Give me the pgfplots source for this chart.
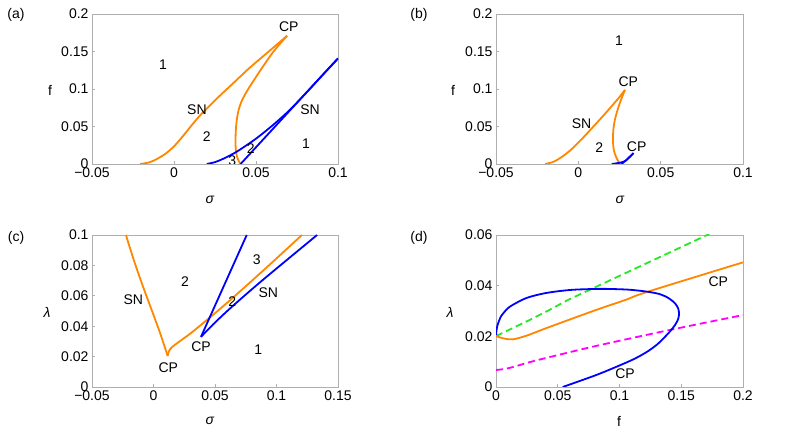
\documentclass[border=0pt]{standalone}
\usepackage{pgfplots}
\pgfplotsset{compat=1.18}
\usepackage{fontspec}
\setmainfont{Liberation Sans}
\definecolor{mo}{RGB}{255,135,0}
\definecolor{mb}{RGB}{0,0,255}
\definecolor{mg}{RGB}{40,230,40}
\definecolor{mm}{RGB}{255,0,255}
\definecolor{fr}{RGB}{175,175,175}
\pgfplotsset{
  panel/.style={
    scale only axis, anchor=south west,
    axis line style={draw=fr, line width=0.6pt},
    tick style={draw=fr, line width=0.6pt},
    major tick length=3pt, tick align=inside,
    xtick pos=lower, ytick pos=left,
    scaled x ticks=false, scaled y ticks=false,
    tick label style={font=\fontsize{14}{16}\selectfont},
    every axis plot/.append style={line width=1.8pt, no markers},
    clip=true,
  },
  orng/.style={mo, smooth},
  blu/.style={mb, smooth},
}
\newcommand{\tx}{\fontsize{14}{16}\selectfont}
\begin{document}
\begin{tikzpicture}[x=1pt,y=1pt]
\useasboundingbox (0,0) rectangle (789,443);
% ---------------- (a)
\begin{axis}[panel, at={(92pt,279pt)}, width=246pt, height=150pt,
  xmin=-0.05, xmax=0.1, ymin=0, ymax=0.2,
  xtick={-0.05,0,0.05,0.1}, xticklabels={−0.05,0,0.05,0.1},
  ytick={0,0.05,0.1,0.15,0.2}, yticklabels={0,0.05,0.1,0.15,0.2}]
\addplot[orng] coordinates {(-0.0207,0) (-0.015,0.0022) (-0.010,0.0072) (-0.005,0.0140) (0,0.0235) (0.005,0.036) (0.010,0.0495) (0.016,0.065) (0.026,0.087) (0.036,0.1075) (0.046,0.128) (0.0567,0.148) (0.069,0.171)};
\addplot[orng] coordinates {(0.069,0.171) (0.0645,0.160) (0.0600,0.148) (0.0555,0.134) (0.0497,0.115) (0.0450,0.099) (0.0415,0.085) (0.0394,0.072) (0.0383,0.059) (0.0377,0.045) (0.0375,0.030) (0.0377,0.019) (0.0384,0.010) (0.0395,0.004) (0.0405,0)};
\addplot[blu] coordinates {(0.020,0) (0.025,0.0025) (0.030,0.0069) (0.035,0.0124) (0.040,0.0188) (0.050,0.0338) (0.060,0.0513) (0.070,0.0708) (0.080,0.0935) (0.090,0.1172) (0.1,0.1405)};
\addplot[mb, sharp plot] coordinates {(0.0406,0) (0.1,0.141)};
\node[font=\tx] at (axis cs:-0.0067,0.132) {1};
\node[font=\tx] at (axis cs:0.070,0.183) {CP};
\node[font=\tx] at (axis cs:0.014,0.073) {SN};
\node[font=\tx] at (axis cs:0.020,0.036) {2};
\node[font=\tx] at (axis cs:0.0355,0.005) {3};
\node[font=\tx] at (axis cs:0.0468,0.021) {2};
\node[font=\tx] at (axis cs:0.083,0.072) {SN};
\node[font=\tx] at (axis cs:0.0805,0.0276) {1};
\end{axis}
% ---------------- (b)
\begin{axis}[panel, at={(496pt,279pt)}, width=247pt, height=150pt,
  xmin=-0.05, xmax=0.1, ymin=0, ymax=0.2,
  xtick={-0.05,0,0.05,0.1}, xticklabels={−0.05,0,0.05,0.1},
  ytick={0,0.05,0.1,0.15,0.2}, yticklabels={0,0.05,0.1,0.15,0.2}]
\addplot[orng] coordinates {(-0.0202,0) (-0.015,0.003) (-0.010,0.0095) (-0.005,0.018) (0,0.0285) (0.005,0.040) (0.010,0.052) (0.015,0.064) (0.020,0.0765) (0.0245,0.088) (0.0283,0.0987)};
\addplot[orng] coordinates {(0.0283,0.0987) (0.0258,0.085) (0.0238,0.072) (0.0223,0.060) (0.0215,0.050) (0.0211,0.040) (0.0211,0.0276) (0.0216,0.018) (0.0228,0.010) (0.0242,0.004) (0.0253,0)};
\addplot[blu] coordinates {(0.0202,0) (0.024,0.0012) (0.0285,0.004) (0.0335,0.0145)};
\addplot[blu] coordinates {(0.0262,0) (0.029,0.005) (0.0335,0.0145)};
\node[font=\tx] at (axis cs:0.0247,0.164) {1};
\node[font=\tx] at (axis cs:0.0303,0.11) {CP};
\node[font=\tx] at (axis cs:0.002,0.054) {SN};
\node[font=\tx] at (axis cs:0.0127,0.022) {2};
\node[font=\tx] at (axis cs:0.0354,0.023) {CP};
\end{axis}
% ---------------- (c)
\begin{axis}[panel, at={(92pt,56pt)}, width=246pt, height=152pt,
  xmin=-0.05, xmax=0.15, ymin=0, ymax=0.1,
  xtick={-0.05,0,0.05,0.1,0.15}, xticklabels={−0.05,0,0.05,0.1,0.15},
  ytick={0,0.02,0.04,0.06,0.08,0.1}, yticklabels={0,0.02,0.04,0.06,0.08,0.1}]
\addplot[orng] coordinates {(-0.0224,0.1) (-0.016,0.0835) (-0.0085,0.066) (-0.0005,0.0485) (0.006,0.034) (0.0115,0.0204)};
\addplot[orng] coordinates {(0.0115,0.0204) (0.0125,0.0235) (0.015,0.0262) (0.020,0.0293) (0.030,0.0352) (0.040,0.0418) (0.060,0.0555) (0.090,0.0772) (0.1207,0.1)};
\addplot[mb, sharp plot] coordinates {(0.0386,0.033) (0.0758,0.1)};
\addplot[blu] coordinates {(0.0386,0.033) (0.050,0.0424) (0.065,0.0537) (0.090,0.0712) (0.133,0.1)};
\node[font=\tx] at (axis cs:0.0256,0.0693) {2};
\node[font=\tx] at (axis cs:-0.0164,0.0572) {SN};
\node[font=\tx] at (axis cs:0.0839,0.0836) {3};
\node[font=\tx] at (axis cs:0.064,0.0561) {2};
\node[font=\tx] at (axis cs:0.0934,0.062) {SN};
\node[font=\tx] at (axis cs:0.0386,0.0265) {CP};
\node[font=\tx] at (axis cs:0.012,0.013) {CP};
\node[font=\tx] at (axis cs:0.0852,0.0243) {1};
\end{axis}
% ---------------- (d)
\begin{axis}[panel, at={(496pt,56pt)}, width=247pt, height=152pt,
  xmin=0, xmax=0.2, ymin=0, ymax=0.06,
  xtick={0,0.05,0.1,0.15,0.2}, xticklabels={0,0.05,0.1,0.15,0.2},
  ytick={0,0.02,0.04,0.06}, yticklabels={0,0.02,0.04,0.06}]
\addplot[mg, sharp plot, dash pattern=on 7pt off 4pt] coordinates {(0,0.0201) (0.027,0.0264) (0.0432,0.0304) (0.058,0.0343) (0.0756,0.0383) (0.1727,0.0604)};
\addplot[mm, smooth, dash pattern=on 7pt off 4pt] coordinates {(0,0.0067) (0.008,0.0072) (0.016,0.0082) (0.025,0.0095) (0.04,0.0114) (0.081,0.0162) (0.1377,0.0222) (0.2,0.0284)};
\addplot[orng] coordinates {(0,0.0201) (0.006,0.0192) (0.0135,0.0188) (0.025,0.0203) (0.0405,0.0232) (0.081,0.0304) (0.105,0.0344) (0.1228,0.0376) (0.2,0.0492)};
\addplot[blu] coordinates {(0,0.0205) (0.001,0.0240) (0.004,0.0278) (0.009,0.0308) (0.0135,0.0324) (0.025,0.0352) (0.0405,0.0371) (0.06,0.0383) (0.08,0.0387) (0.0918,0.0387) (0.108,0.0384) (0.1228,0.0376) (0.133,0.0366) (0.140,0.0350) (0.145,0.0330) (0.1475,0.031) (0.1482,0.029) (0.1475,0.0268) (0.145,0.0245) (0.141,0.0220) (0.136,0.0194) (0.130,0.0166) (0.122,0.0138) (0.112,0.0111) (0.100,0.0085) (0.081,0.0047) (0.054,0)};
\node[font=\tx] at (axis cs:0.18,0.0416) {CP};
\node[font=\tx] at (axis cs:0.1045,0.0054) {CP};
\end{axis}
% ---------------- labels
\node[font=\tx] at (16,428) {(a)};
\node[font=\tx] at (419,428) {(b)};
\node[font=\tx] at (16,205) {(c)};
\node[font=\tx] at (419,205) {(d)};
\node[font=\tx] at (50,353) {f};
\node[font=\tx] at (210,243) {\textit{σ}};
\node[font=\tx] at (453,353) {f};
\node[font=\tx] at (620,243) {\textit{σ}};
\node[font=\tx] at (47,131) {\textit{λ}};
\node[font=\tx] at (210,22) {\textit{σ}};
\node[font=\tx] at (450,131) {\textit{λ}};
\node[font=\tx] at (619,22) {f};
\end{tikzpicture}
\end{document}
